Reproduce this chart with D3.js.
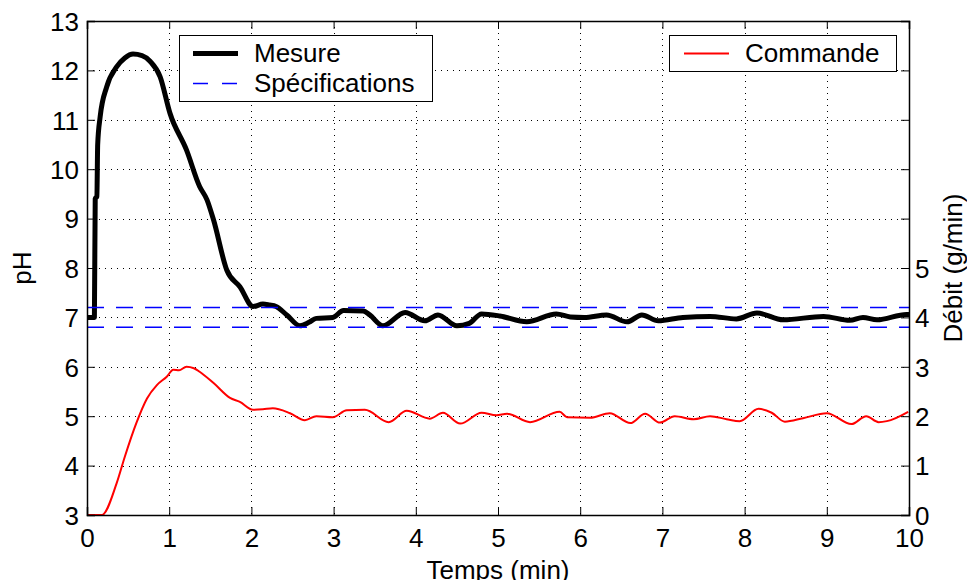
<!DOCTYPE html>
<html>
<head>
<meta charset="utf-8">
<script src="https://cdn.jsdelivr.net/npm/d3@7"></script>
<style>
  body { margin: 0; background: #fff; }
  text { font-family: "Liberation Sans", Arial, Helvetica, sans-serif; fill: #000; }
</style>
</head>
<body>
<div id="dataviz"></div>
<script>
// Data
var mesureTime = [0, 0.09, 0.10, 0.12, 0.13, 0.16, 0.24, 0.36, 0.46, 0.56, 0.67, 0.77, 0.89, 1.01, 1.21, 1.37, 1.46, 1.54, 1.70, 1.86, 2.02, 2.14, 2.22, 2.30, 2.43, 2.59, 2.70, 2.79, 2.99, 3.12, 3.36, 3.44, 3.60, 3.87, 4.11, 4.27, 4.50, 4.65, 4.80, 5.02, 5.35, 5.71, 5.88, 6.05, 6.32, 6.57, 6.75, 6.95, 7.25, 7.58, 7.90, 8.15, 8.47, 8.96, 9.28, 9.44, 9.61, 9.97, 10.0];
var mesurePH   = [7.0, 7.0, 9.4, 9.45, 10.5, 11.06, 11.67, 12.07, 12.25, 12.33, 12.30, 12.18, 11.87, 11.13, 10.39, 9.65, 9.38, 8.97, 7.96, 7.62, 7.22, 7.27, 7.25, 7.22, 7.05, 6.83, 6.90, 6.98, 7.0, 7.14, 7.13, 7.05, 6.83, 7.10, 6.93, 7.05, 6.83, 6.88, 7.07, 7.03, 6.91, 7.07, 7.01, 7.0, 7.05, 6.91, 7.05, 6.93, 7.0, 7.02, 6.97, 7.09, 6.95, 7.02, 6.94, 7.0, 6.95, 7.06, 7.06];

var commandeTime  = [0, 0.18, 0.36, 0.46, 0.60, 0.73, 0.85, 0.97, 1.05, 1.12, 1.21, 1.30, 1.37, 1.54, 1.74, 1.86, 2.02, 2.14, 2.26, 2.47, 2.65, 2.79, 2.99, 3.16, 3.38, 3.67, 3.89, 4.17, 4.33, 4.54, 4.80, 4.98, 5.11, 5.39, 5.75, 5.84, 6.12, 6.36, 6.61, 6.79, 6.97, 7.15, 7.38, 7.58, 7.78, 7.94, 8.17, 8.33, 8.49, 8.71, 9.0, 9.30, 9.48, 9.63, 9.73, 9.99];
var commandeDebit = [0, 0, 0.64, 1.18, 1.86, 2.36, 2.63, 2.80, 2.94, 2.93, 3.0, 2.97, 2.90, 2.67, 2.37, 2.29, 2.13, 2.14, 2.16, 2.06, 1.92, 2.0, 1.98, 2.12, 2.13, 1.88, 2.11, 1.95, 2.07, 1.85, 2.07, 2.02, 2.05, 1.88, 2.09, 1.98, 1.97, 2.06, 1.86, 2.05, 1.87, 2.0, 1.94, 2.0, 1.94, 1.90, 2.15, 2.07, 1.89, 1.96, 2.06, 1.84, 2.0, 1.88, 1.90, 2.09];

var specLimits = [6.8, 7.2];

var xTicks = [0, 1, 2, 3, 4, 5, 6, 7, 8, 9, 10];
var yTicks = [3, 4, 5, 6, 7, 8, 9, 10, 11, 12, 13];
var y2Ticks = [0, 1, 2, 3, 4, 5, 6, 7, 8, 9, 10];
var y2TickLabels = ["0", "1", "2", "3", "4", "5", "", "", "", "", ""];

// Set svg dimensions
var margin = {top: 21, right: 58, bottom: 65, left: 87};
const width = 967;
const height = 580;

var plotWidth = width - margin.left - margin.right;
var plotHeight = height - margin.top - margin.bottom;

var svg = d3.select("#dataviz")
            .append("svg")
                .attr("width", width)
                .attr("height", height)
            .append("g")
                .attr("transform", "translate(" + margin.left + "," + margin.top + ")");

// Scales
var scaleX = d3.scaleLinear().domain([0, 10]).range([0, plotWidth]);
var scaleY = d3.scaleLinear().domain([3, 13]).range([plotHeight, 0]);
var scaleY2 = d3.scaleLinear().domain([0, 10]).range([plotHeight, 0]);

svg.append("clipPath").attr("id", "clip")
    .append("rect").attr("width", plotWidth).attr("height", plotHeight);

// Grid (dotted)
svg.append("g")
    .selectAll("line.gx")
    .data(xTicks.slice(1, -1))
    .enter().append("line")
        .attr("x1", d => Math.round(scaleX(d)) + 0.5).attr("x2", d => Math.round(scaleX(d)) + 0.5)
        .attr("y1", 0).attr("y2", plotHeight)
        .attr("stroke", "#000").attr("stroke-width", 1)
        .attr("stroke-dasharray", "1,5");

svg.append("g")
    .selectAll("line.gy")
    .data(yTicks.slice(1, -1))
    .enter().append("line")
        .attr("x1", 0).attr("x2", plotWidth)
        .attr("y1", d => Math.round(scaleY(d)) + 0.5).attr("y2", d => Math.round(scaleY(d)) + 0.5)
        .attr("stroke", "#000").attr("stroke-width", 1)
        .attr("stroke-dasharray", "1,5");

// Lines
var lineMesure = d3.line()
    .x(function(d, i) { return scaleX(mesureTime[i]); })
    .y(function(d) { return scaleY(d); })
    .curve(d3.curveMonotoneX);

var lineCommande = d3.line()
    .x(function(d, i) { return scaleX(commandeTime[i]); })
    .y(function(d) { return scaleY2(d); })
    .curve(d3.curveMonotoneX);

var plot = svg.append("g").attr("clip-path", "url(#clip)");

plot.append("path")
    .datum(mesurePH)
    .attr("d", lineMesure)
    .attr("fill", "none")
    .attr("stroke", "#000")
    .attr("stroke-width", 5)
    .attr("stroke-linejoin", "round");

plot.selectAll("line.spec")
    .data(specLimits)
    .enter().append("line")
        .attr("x1", 0).attr("x2", plotWidth)
        .attr("y1", d => scaleY(d)).attr("y2", d => scaleY(d))
        .attr("stroke", "#0000ff").attr("stroke-width", 1.5)
        .attr("stroke-dasharray", "17,12");

plot.append("path")
    .datum(commandeDebit)
    .attr("d", lineCommande)
    .attr("fill", "none")
    .attr("stroke", "#ff0000")
    .attr("stroke-width", 2)
    .attr("stroke-linejoin", "round");

// Axes (ticks inside, MATLAB style)
var axisBottom = svg.append("g")
    .attr("transform", "translate(0," + plotHeight + ")")
    .call(d3.axisBottom(scaleX).tickValues(xTicks).tickSize(-8).tickPadding(14));

var axisTop = svg.append("g")
    .call(d3.axisTop(scaleX).tickValues(xTicks).tickSize(-8).tickFormat(""));

var axisLeft = svg.append("g")
    .call(d3.axisLeft(scaleY).tickValues(yTicks).tickSize(-8).tickPadding(8));

var axisRight = svg.append("g")
    .attr("transform", "translate(" + plotWidth + ",0)")
    .call(d3.axisRight(scaleY2).tickValues(y2Ticks).tickSize(-8).tickPadding(6)
        .tickFormat(function(d, i) { return y2TickLabels[i]; }));

[axisBottom, axisTop, axisLeft, axisRight].forEach(function(a) {
    a.select(".domain").attr("stroke", "#000").attr("stroke-width", 1.5);
    a.selectAll(".tick line").attr("stroke", "#000").attr("stroke-width", 1);
    a.selectAll(".tick text").style("font-size", "26px").attr("fill", "#000");
});
axisBottom.selectAll(".tick text").attr("dy", "0.71em");
axisLeft.selectAll(".tick text").attr("dy", "0.36em");
axisRight.selectAll(".tick text").attr("dy", "0.36em");

// Axis labels
svg.append("text")
    .attr("x", plotWidth / 2)
    .attr("y", plotHeight + 64)
    .style("text-anchor", "middle")
    .style("font-size", "26px")
    .text("Temps (min)");

svg.append("text")
    .attr("transform", "rotate(-90)")
    .attr("x", -plotHeight / 2)
    .attr("y", 31 - margin.left)
    .style("text-anchor", "middle")
    .style("font-size", "26px")
    .text("pH");

svg.append("text")
    .attr("transform", "rotate(-90)")
    .attr("x", -plotHeight / 2)
    .attr("y", plotWidth + 53)
    .style("text-anchor", "middle")
    .style("font-size", "26px")
    .text("Débit (g/min)");

// Legends
function addLegendBox(x, y, w, h) {
    svg.append("rect")
        .attr("x", x - margin.left + 0.5).attr("y", y - margin.top + 0.5)
        .attr("width", w).attr("height", h)
        .attr("fill", "#fff").attr("stroke", "#000").attr("stroke-width", 1);
}

function addLegendEntry(x, y, label, color, sw, dash) {
    svg.append("line")
        .attr("x1", x - margin.left).attr("x2", x - margin.left + 45)
        .attr("y1", y - margin.top + 0.5).attr("y2", y - margin.top + 0.5)
        .attr("stroke", color).attr("stroke-width", sw)
        .attr("stroke-dasharray", dash);
    svg.append("text")
        .attr("x", x - margin.left + 61)
        .attr("y", y - margin.top)
        .attr("dy", "0.36em")
        .style("font-size", "26px")
        .text(label);
}

addLegendBox(179, 35, 253, 66);
addLegendEntry(193, 53, "Mesure", "#000", 5, null);
addLegendEntry(193, 83, "Spécifications", "#0000ff", 1.5, "15,14");

addLegendBox(669, 35, 227, 36);
addLegendEntry(684, 53, "Commande", "#ff0000", 2, null);
</script>
</body>
</html>
